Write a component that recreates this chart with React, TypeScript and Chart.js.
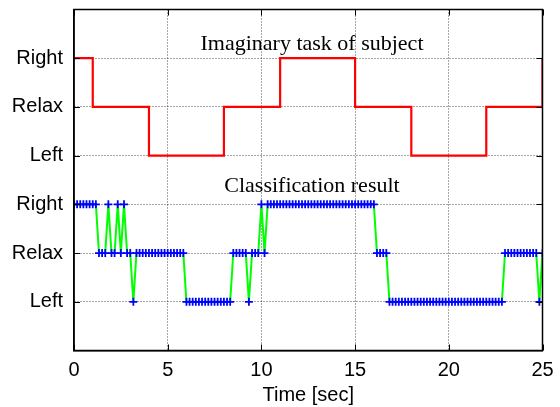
import React, { useEffect, useRef } from 'react';
import { Chart, registerables } from 'chart.js';

Chart.register(...registerables);

// ---- data ----
const yTickLabels = ['Left', 'Relax', 'Right', 'Left', 'Relax', 'Right'];
const xTickValues = [0, 5, 10, 15, 20, 25];
// task: 0 = Left, 1 = Relax, 2 = Right (plotted in upper band)
const taskTimes = [0, 1, 4, 8, 11, 15, 18, 22, 25];
const taskStates = [2, 1, 0, 1, 2, 1, 0, 1, 2];
// classification result, sampled every 1/6 s from 0 to 25 s
const sampleInterval = 1 / 6;
const resultStates = [
  2, 2, 2, 2, 2, 2, 2, 2, 1, 1, 1, 2, 1, 1, 2, 1, 2, 1, 1, 0,
  1, 1, 1, 1, 1, 1, 1, 1, 1, 1, 1, 1, 1, 1, 1, 1,
  0, 0, 0, 0, 0, 0, 0, 0, 0, 0, 0, 0, 0, 0, 0,
  1, 1, 1, 1, 1, 0, 1, 1, 1, 2, 1,
  2, 2, 2, 2, 2, 2, 2, 2, 2, 2, 2, 2, 2, 2, 2, 2, 2, 2, 2, 2,
  2, 2, 2, 2, 2, 2, 2, 2, 2, 2, 2, 2, 2, 2, 2,
  1, 1, 1, 1,
  0, 0, 0, 0, 0, 0, 0, 0, 0, 0, 0, 0, 0, 0, 0, 0, 0, 0, 0, 0,
  0, 0, 0, 0, 0, 0, 0, 0, 0, 0, 0, 0, 0, 0, 0, 0, 0,
  1, 1, 1, 1, 1, 1, 1, 1, 1, 1, 1, 0, 1,
];
const taskOffset = 3;
const taskTitle = 'Imaginary task of subject';
const resultTitle = 'Classification result';
const xTitle = 'Time [sec]';

const W = 560;
const H = 407;

const annotPlugin = {
  id: 'annot',
  afterDraw(chart: any) {
    const { ctx, chartArea, scales } = chart;
    const xs = scales.x;
    const ys = scales.y;
    ctx.save();
    // frame
    ctx.strokeStyle = '#000';
    ctx.lineWidth = 1.5;
    ctx.strokeRect(chartArea.left, chartArea.top, chartArea.right - chartArea.left, chartArea.bottom - chartArea.top);
    // inward tick marks
    ctx.lineWidth = 1;
    const tl = 6;
    xTickValues.forEach((v) => {
      const px = Math.round(xs.getPixelForValue(v)) + 0.5;
      ctx.beginPath();
      ctx.moveTo(px, chartArea.bottom);
      ctx.lineTo(px, chartArea.bottom - tl);
      ctx.moveTo(px, chartArea.top);
      ctx.lineTo(px, chartArea.top + tl);
      ctx.stroke();
    });
    yTickLabels.forEach((_, i) => {
      const py = Math.round(ys.getPixelForValue(i)) + 0.5;
      ctx.beginPath();
      ctx.moveTo(chartArea.left, py);
      ctx.lineTo(chartArea.left + tl, py);
      ctx.moveTo(chartArea.right, py);
      ctx.lineTo(chartArea.right - tl, py);
      ctx.stroke();
    });
    // titles inside plot
    ctx.fillStyle = '#000';
    ctx.font = '22px "Liberation Serif"';
    ctx.textAlign = 'center';
    ctx.textBaseline = 'alphabetic';
    ctx.fillText(taskTitle, xs.getPixelForValue(12.7), ys.getPixelForValue(5.17));
    ctx.fillText(resultTitle, xs.getPixelForValue(12.7), ys.getPixelForValue(2.25));
    ctx.restore();
  },
};

export default function App() {
  const ref = useRef<HTMLCanvasElement | null>(null);
  useEffect(() => {
    document.body.style.margin = '0';
    const canvas = ref.current!;
    const taskData = taskTimes.map((t, i) => ({ x: t, y: taskStates[i] + taskOffset }));
    const resultData = resultStates.map((s, i) => ({ x: i * sampleInterval, y: s }));
    const gridDot = 'rgba(0,0,0,0.7)';
    const chart = new Chart(canvas, {
      type: 'line',
      data: {
        datasets: [
          {
            data: taskData,
            borderColor: '#ff0000',
            borderWidth: 2.2,
            stepped: true,
            pointRadius: 0,
            fill: false,
          },
          {
            data: resultData,
            borderColor: '#00ff00',
            borderWidth: 2,
            pointStyle: 'cross',
            pointRadius: 4,
            pointBorderColor: '#0000ff',
            pointBackgroundColor: '#0000ff',
            pointBorderWidth: 1.8,
            fill: false,
          },
        ],
      },
      options: {
        responsive: false,
        animation: false,
        devicePixelRatio: 1,
        layout: { padding: { top: 9.5, right: 17.5, left: 0, bottom: 0 } },
        plugins: {
          legend: { display: false },
          tooltip: { enabled: false },
        },
        scales: {
          x: {
            type: 'linear',
            min: 0,
            max: 25,
            afterFit: (s: any) => {
              s.height = H - 350.5;
              s.paddingLeft = 0;
              s.paddingRight = 0;
            },
            ticks: {
              stepSize: 5,
              color: '#000',
              font: { family: '"Liberation Sans"', size: 20 },
              padding: 8,
              maxRotation: 0,
            },
            grid: {
              drawTicks: false,
              color: (c: any) => (c.tick && (c.tick.value === 0 || c.tick.value === 25) ? 'rgba(0,0,0,0)' : gridDot),
              lineWidth: 1,
            },
            border: { display: true, color: '#000', width: 1.5, dash: [1, 2] as any },
            title: {
              display: true,
              text: xTitle,
              color: '#000',
              font: { family: '"Liberation Sans"', size: 20 },
              padding: { top: 0, bottom: 0 },
            },
          },
          y: {
            type: 'linear',
            min: -1,
            max: 6,
            afterFit: (s: any) => {
              s.width = 74;
              s.paddingTop = 0;
              s.paddingBottom = 0;
            },
            ticks: {
              stepSize: 1,
              color: '#000',
              font: { family: '"Liberation Sans"', size: 20 },
              padding: 11,
              callback: (v: any) => (v >= 0 && v <= 5 ? yTickLabels[v] : ''),
            },
            grid: {
              drawTicks: false,
              color: (c: any) => (c.tick && c.tick.value >= 0 && c.tick.value <= 5 ? gridDot : 'rgba(0,0,0,0)'),
              lineWidth: 1,
            },
            border: { display: true, color: '#000', width: 1.5, dash: [1, 2] as any },
          },
        },
      },
      plugins: [annotPlugin],
    } as any);
    return () => chart.destroy();
  }, []);
  return (
    <div style={{ width: W, height: H }}>
      <canvas ref={ref} width={W} height={H} style={{ display: 'block', width: W, height: H }} />
    </div>
  );
}
